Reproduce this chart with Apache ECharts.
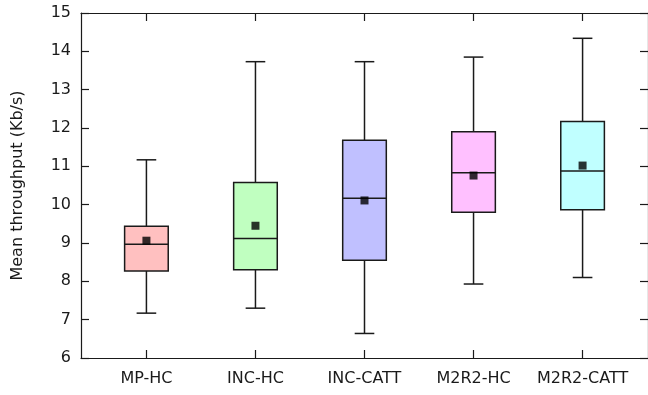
<!DOCTYPE html>
<html>
<head>
<meta charset="utf-8">
<script src="https://cdn.jsdelivr.net/npm/echarts@6/dist/echarts.min.js"></script>
<style>
  html, body { margin: 0; padding: 0; background: #fff; }
  #chart { width: 648px; height: 395px; }
</style>
</head>
<body>
<div id="chart"></div>
<script>
// Schemes compared
const categories = ['MP-HC', 'INC-HC', 'INC-CATT', 'M2R2-HC', 'M2R2-CATT'];
// Box statistics per scheme (Kb/s)
const whiskerLow  = [7.17, 7.30, 6.64, 7.93, 8.10];
const quartile1   = [8.27, 8.30, 8.55, 9.80, 9.87];
const medians     = [8.97, 9.12, 10.17, 10.83, 10.88];
const quartile3   = [9.44, 10.58, 11.68, 11.90, 12.17];
const whiskerHigh = [11.17, 13.73, 13.73, 13.85, 14.34];
const means       = [9.06, 9.45, 10.11, 10.76, 11.02];
// Y axis ticks
const yTicks = [6, 7, 8, 9, 10, 11, 12, 13, 14, 15];

const boxFill = ['#ffc0c0', '#c0ffc0', '#c0c0ff', '#ffc0ff', '#c0ffff'];
const FONT = 'DejaVu Sans';
const INK = '#1a1a1a';

const positions = categories.map((_, i) => i + 1);
const boxData = categories.map((_, i) => [positions[i], whiskerLow[i], quartile1[i], medians[i], quartile3[i], whiskerHigh[i]]);
const meanData = categories.map((_, i) => [positions[i], means[i]]);

const BOX_HALF = 0.2;   // half box width in x units
const CAP_HALF = 0.09;  // half whisker-cap width in x units

function renderBox(params, api) {
  const x = api.value(0);
  const lo = api.value(1), q1 = api.value(2), md = api.value(3), q3 = api.value(4), hi = api.value(5);
  const pTL = api.coord([x - BOX_HALF, q3]);
  const pBR = api.coord([x + BOX_HALF, q1]);
  const pMidL = api.coord([x - BOX_HALF, md]);
  const pMidR = api.coord([x + BOX_HALF, md]);
  const pHi = api.coord([x, hi]);
  const pLo = api.coord([x, lo]);
  const capL = api.coord([x - CAP_HALF, hi])[0];
  const capR = api.coord([x + CAP_HALF, hi])[0];
  const cx = pHi[0];
  const lineStyle = { stroke: INK, lineWidth: 1.5, fill: null };
  return {
    type: 'group',
    children: [
      { type: 'line', shape: { x1: cx, y1: pHi[1], x2: cx, y2: pTL[1] }, style: lineStyle },
      { type: 'line', shape: { x1: cx, y1: pBR[1], x2: cx, y2: pLo[1] }, style: lineStyle },
      { type: 'line', shape: { x1: capL, y1: pHi[1], x2: capR, y2: pHi[1] }, style: lineStyle },
      { type: 'line', shape: { x1: capL, y1: pLo[1], x2: capR, y2: pLo[1] }, style: lineStyle },
      { type: 'rect', shape: { x: pTL[0], y: pTL[1], width: pBR[0] - pTL[0], height: pBR[1] - pTL[1] },
        style: { fill: boxFill[params.dataIndex], stroke: INK, lineWidth: 1.5 } },
      { type: 'line', shape: { x1: pMidL[0], y1: pMidL[1], x2: pMidR[0], y2: pMidR[1] }, style: lineStyle }
    ]
  };
}

const chart = echarts.init(document.getElementById('chart'), null, { renderer: 'canvas' });

const tickCommon = { show: true, inside: true, length: 8, lineStyle: { color: INK, width: 1.2 } };

chart.setOption({
  animation: false,
  backgroundColor: '#fff',
  grid: { left: 81, right: -1, top: 13, bottom: 37, containLabel: false },
  xAxis: [
    {
      type: 'value', min: 0.4, max: 5.6, position: 'bottom',
      axisLine: { show: true, onZero: false, lineStyle: { color: INK, width: 1.2 } },
      axisTick: Object.assign({ customValues: positions }, tickCommon),
      axisLabel: {
        customValues: positions, margin: 13, color: INK, fontFamily: FONT, fontSize: 16,
        formatter: v => categories[Math.round(v) - 1] || ''
      },
      splitLine: { show: false }
    },
    {
      type: 'value', min: 0.4, max: 5.6, position: 'top',
      axisLine: { show: true, onZero: false, lineStyle: { color: INK, width: 1.2 } },
      axisTick: Object.assign({ customValues: positions }, tickCommon),
      axisLabel: { show: false },
      splitLine: { show: false }
    }
  ],
  yAxis: [
    {
      type: 'value', min: 6, max: 15, interval: 1, position: 'left',
      name: 'Mean throughput (Kb/s)', nameLocation: 'middle', nameGap: 55,
      nameTextStyle: { color: INK, fontFamily: FONT, fontSize: 16 },
      axisLine: { show: true, onZero: false, lineStyle: { color: INK, width: 1.2 } },
      axisTick: Object.assign({ customValues: yTicks }, tickCommon),
      axisLabel: { customValues: yTicks, margin: 10, color: INK, fontFamily: FONT, fontSize: 16 },
      splitLine: { show: false }
    },
    {
      type: 'value', min: 6, max: 15, interval: 1, position: 'right',
      axisLine: { show: true, onZero: false, lineStyle: { color: INK, width: 1.2 } },
      axisTick: Object.assign({ customValues: yTicks }, tickCommon),
      axisLabel: { show: false },
      splitLine: { show: false }
    }
  ],
  series: [
    {
      type: 'custom', name: 'box', xAxisIndex: 0, yAxisIndex: 0,
      renderItem: renderBox,
      encode: { x: 0, y: [1, 2, 3, 4, 5] },
      data: boxData, z: 2
    },
    {
      type: 'scatter', name: 'mean', xAxisIndex: 0, yAxisIndex: 0,
      symbol: 'rect', symbolSize: 8,
      itemStyle: { color: '#000' },
      data: meanData, z: 3
    }
  ]
});
</script>
</body>
</html>
